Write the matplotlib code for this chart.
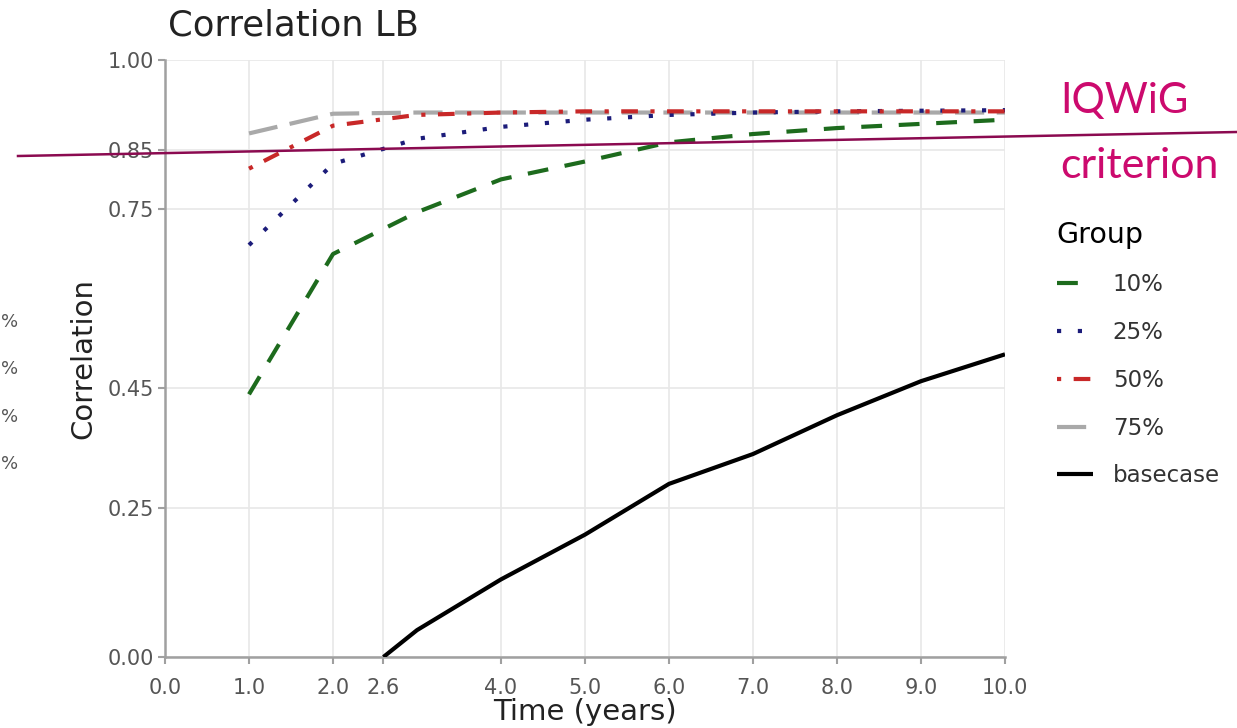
import matplotlib
matplotlib.use("Agg")
import matplotlib.pyplot as plt
from matplotlib.lines import Line2D

# ---- data ----
time_pts = [1.0, 2.0, 3.0, 4.0, 5.0, 6.0, 7.0, 8.0, 9.0, 10.0]
g10 = [0.44, 0.675, 0.745, 0.80, 0.83, 0.862, 0.876, 0.886, 0.893, 0.900]
g25 = [0.69, 0.826, 0.868, 0.888, 0.900, 0.908, 0.912, 0.914, 0.915, 0.916]
g50 = [0.818, 0.890, 0.908, 0.912, 0.914, 0.914, 0.914, 0.914, 0.914, 0.914]
g75 = [0.877, 0.910, 0.912, 0.912, 0.912, 0.912, 0.912, 0.912, 0.912, 0.912]
base_time = [2.6, 3.0, 4.0, 5.0, 6.0, 7.0, 8.0, 9.0, 10.0]
basecase = [0.0, 0.045, 0.13, 0.205, 0.29, 0.34, 0.405, 0.462, 0.507]

x_ticks = [0.0, 1.0, 2.0, 2.6, 4.0, 5.0, 6.0, 7.0, 8.0, 9.0, 10.0]
x_labels = ["0.0", "1.0", "2.0", "2.6", "4.0", "5.0", "6.0", "7.0", "8.0", "9.0", "10.0"]
y_ticks = [0.00, 0.25, 0.45, 0.75, 0.85, 1.00]
y_labels = ["0.00", "0.25", "0.45", "0.75", "0.85", "1.00"]
group_labels = ["10%", "25%", "50%", "75%", "basecase"]
left_fragments = ["%", "%", "%", "%"]

W, H = 1237, 728
fig = plt.figure(figsize=(W / 100, H / 100), dpi=100)
ax = fig.add_axes([165 / W, 1 - 657 / H, (1005 - 165) / W, (657 - 60) / H])

lw = 3.0
ax.plot(time_pts, g10, color="#1d6b1d", lw=lw, dashes=(5, 4), label=group_labels[0], zorder=3)
ax.plot(time_pts, g25, color="#1c1c7a", lw=lw, dashes=(1, 4), label=group_labels[1], zorder=3)
ax.plot(time_pts, g50, color="#c82828", lw=lw, dashes=(1, 3, 4, 3), label=group_labels[2], zorder=3)
ax.plot(time_pts, g75, color="#a9a9a9", lw=lw, dashes=(7, 3), label=group_labels[3], zorder=2)
ax.plot(base_time, basecase, color="black", lw=lw, solid_capstyle="butt", label=group_labels[4], zorder=3)

ax.set_xlim(0, 10)
ax.set_ylim(0, 1)
ax.set_xticks(x_ticks)
ax.set_xticklabels(x_labels)
ax.set_yticks(y_ticks)
ax.set_yticklabels(y_labels)
ax.grid(True, color="#e8e8e8", lw=1.2, zorder=0)
ax.set_axisbelow(True)
for s in ["top", "right"]:
    ax.spines[s].set_visible(False)
for s in ["left", "bottom"]:
    ax.spines[s].set_color("#a0a0a0")
    ax.spines[s].set_linewidth(1.8)
ax.tick_params(axis="both", colors="#a0a0a0", width=1.5, length=5, labelsize=15,
               labelcolor="#555555")
ax.tick_params(axis="x", pad=10)
ax.tick_params(axis="y", pad=3)
ax.set_xlabel("Time (years)", fontsize=21, color="#222222", labelpad=0)
ax.set_ylabel("Correlation", fontsize=21, color="#222222", labelpad=7)
fig.text(168 / W, 1 - 25 / H, "Correlation LB", fontsize=25.5, color="#222222",
         ha="left", va="center")

leg = ax.legend(title="Group", loc="upper left", bbox_to_anchor=(1036 / W, 1 - 200 / H),
                bbox_transform=fig.transFigure, frameon=False, fontsize=16.5,
                title_fontsize=20.5, handlelength=1.6, handletextpad=0.85, labelspacing=1.08)
leg._legend_box.align = "left"
for t in leg.get_texts():
    t.set_color("#333333")

# IQWiG criterion annotation (figure overlay)
fig.add_artist(Line2D([18 / W, 1 - 0 / W], [1 - 156 / H, 1 - 132 / H],
                      transform=fig.transFigure, color="#8b0a50", lw=1.8))
fig.text(1060 / W, 1 - 101 / H, "IQWiG", fontsize=30, color="#cc0a6e",
         family="Lato", va="center", ha="left")
fig.text(1060 / W, 1 - 166 / H, "criterion", fontsize=31, color="#cc0a6e",
         family="Lato", va="center", ha="left")

# cut-off fragments of another legend at the left edge
for i, t in enumerate(left_fragments):
    fig.text(1 / W, 1 - (322 + 47.5 * i) / H, t, fontsize=13, color="#555555",
             ha="left", va="center")

fig.savefig("out.png", dpi=100)
